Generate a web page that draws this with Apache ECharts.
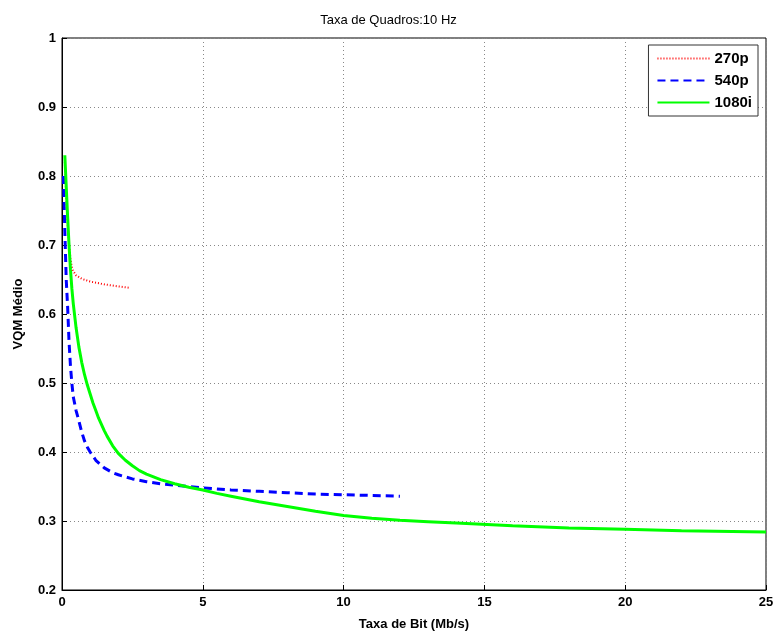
<!DOCTYPE html>
<html>
<head>
<meta charset="utf-8">
<script src="https://cdn.jsdelivr.net/npm/echarts@6/dist/echarts.min.js"></script>
<style>html,body{margin:0;padding:0;background:#fff}#c{width:777px;height:636px}</style>
</head>
<body>
<div id="c"></div>
<script>
const titleText = 'Taxa de Quadros:10 Hz';
const xName = 'Taxa de Bit (Mb/s)';
const yName = 'VQM Médio';
const seriesNames = ['270p', '540p', '1080i'];

const x270 = [0.1, 0.15, 0.2, 0.25, 0.3, 0.35, 0.4, 0.5, 0.7, 1.0, 1.5, 2.0, 2.4];
const y270 = [0.82, 0.77, 0.73, 0.70, 0.68, 0.668, 0.662, 0.656, 0.651, 0.647, 0.643, 0.640, 0.638];

const x540 = [0.05, 0.1, 0.15, 0.2, 0.25, 0.3, 0.35, 0.4, 0.5, 0.6, 0.7, 0.8, 0.9, 1.0, 1.2, 1.5, 1.8, 2, 2.5, 3, 3.5, 4, 5, 6, 7, 8, 9, 10, 11, 12];
const y540 = [0.80, 0.72, 0.65, 0.61, 0.56, 0.525, 0.50, 0.48, 0.46, 0.445, 0.429, 0.416, 0.407, 0.400, 0.388, 0.377, 0.370, 0.367, 0.361, 0.357, 0.354, 0.352, 0.348, 0.345, 0.343, 0.341, 0.339, 0.338, 0.337, 0.336];

const x1080 = [0.1, 0.15, 0.2, 0.25, 0.3, 0.35, 0.4, 0.5, 0.6, 0.7, 0.8, 0.9, 1.0, 1.1, 1.2, 1.3, 1.4, 1.5, 1.6, 1.8, 2, 2.25, 2.5, 2.75, 3, 3.5, 4, 4.5, 5, 5.5, 6, 7, 8, 9, 10, 11, 12, 13, 14, 16, 18, 20, 22, 25];
const y1080 = [0.83, 0.785, 0.74, 0.70, 0.665, 0.637, 0.615, 0.58, 0.552, 0.53, 0.512, 0.497, 0.484, 0.471, 0.460, 0.449, 0.440, 0.431, 0.423, 0.409, 0.398, 0.388, 0.380, 0.373, 0.368, 0.360, 0.354, 0.349, 0.345, 0.340, 0.336, 0.328, 0.321, 0.314, 0.308, 0.304, 0.301, 0.299, 0.297, 0.293, 0.290, 0.288, 0.286, 0.284];

const xTicks = [0, 5, 10, 15, 20, 25];

const zip = (xs, ys) => xs.map((v, i) => [v, ys[i]]);
const font = 'Liberation Sans, Arial, sans-serif';

const chart = echarts.init(document.getElementById('c'));
chart.setOption({
  animation: false,
  title: {
    text: titleText, left: 'center', top: 9,
    textStyle: { fontFamily: font, fontSize: 13, fontWeight: 'normal', color: '#000' }
  },
  grid: { left: 62, right: 11, top: 38, bottom: 46, show: true, borderColor: '#000', borderWidth: 1 },
  legend: {
    right: 19, top: 45, orient: 'vertical', itemGap: 7,
    itemWidth: 52, itemHeight: 10,
    backgroundColor: '#fff', borderColor: '#333', borderWidth: 1,
    padding: [6, 6, 6, 8],
    itemStyle: { opacity: 0 },
    textStyle: { fontFamily: font, fontSize: 15, fontWeight: 'bold', color: '#000' },
    data: seriesNames
  },
  xAxis: {
    type: 'value', min: xTicks[0], max: xTicks[xTicks.length - 1], interval: 5,
    name: xName, nameLocation: 'middle', nameGap: 28,
    nameTextStyle: { fontFamily: font, fontSize: 13, fontWeight: 'bold', color: '#000' },
    axisLine: { show: true, lineStyle: { color: '#000' } },
    axisTick: { show: true, inside: true, length: 5, lineStyle: { color: '#000' } },
    axisLabel: { fontFamily: font, fontSize: 13, fontWeight: 'bold', color: '#000', margin: 6 },
    splitLine: { show: true, lineStyle: { color: '#888', type: [1, 3] } }
  },
  yAxis: {
    type: 'value', min: 0.2, max: 1, interval: 0.1,
    name: yName, nameLocation: 'middle', nameGap: 37,
    nameTextStyle: { fontFamily: font, fontSize: 13, fontWeight: 'bold', color: '#000' },
    axisLine: { show: true, lineStyle: { color: '#000' } },
    axisTick: { show: true, inside: true, length: 5, lineStyle: { color: '#000' } },
    axisLabel: { fontFamily: font, fontSize: 13, fontWeight: 'bold', color: '#000', margin: 6,
      formatter: v => (Math.round(v * 10) / 10).toString() },
    splitLine: { show: true, lineStyle: { color: '#888', type: [1, 3] } }
  },
  series: [
    { name: seriesNames[0], type: 'line', data: zip(x270, y270), smooth: false, symbol: 'none',
      lineStyle: { color: '#ff0000', width: 2, type: [1, 2] }, itemStyle: { color: '#ff0000' } },
    { name: seriesNames[1], type: 'line', data: zip(x540, y540), smooth: false, symbol: 'none',
      lineStyle: { color: '#0000ff', width: 3, type: [8, 5] }, itemStyle: { color: '#0000ff' } },
    { name: seriesNames[2], type: 'line', data: zip(x1080, y1080), smooth: false, symbol: 'none',
      lineStyle: { color: '#00ff00', width: 3 }, itemStyle: { color: '#00ff00' } }
  ]
});
</script>
</body>
</html>
